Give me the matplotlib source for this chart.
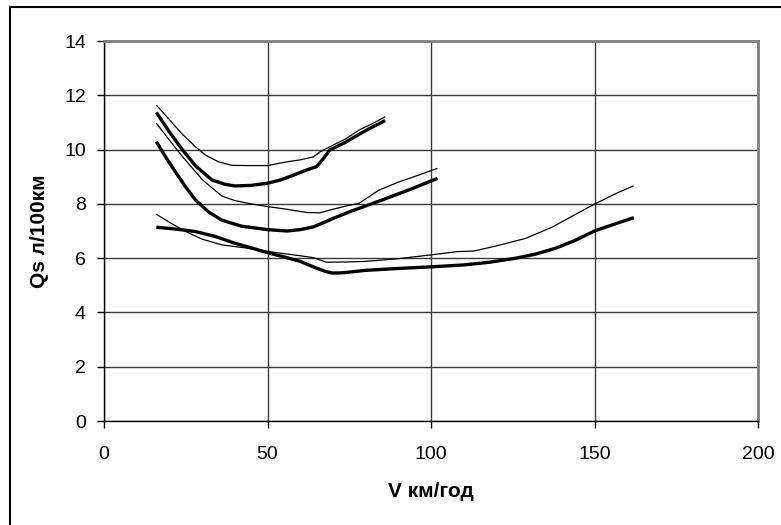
import matplotlib
matplotlib.use("Agg")
import matplotlib.pyplot as plt
from matplotlib.lines import Line2D

plt.rcParams['font.family'] = ['Liberation Sans', 'DejaVu Sans']

# Top pair
v_a_thin = [16, 20, 24, 28, 31, 35, 39, 44, 50, 56, 60, 64, 66, 69, 74, 78, 82, 86]
q_a_thin = [11.64, 11.1, 10.56, 10.1, 9.80, 9.55, 9.42, 9.41, 9.41, 9.55, 9.62, 9.73, 9.91, 10.1, 10.4, 10.72, 10.95, 11.21]
v_a_thick = [16, 20, 24, 28, 33, 37, 40, 45, 50, 54, 58, 62, 65, 67, 69, 74, 80, 86]
q_a_thick = [11.37, 10.65, 9.99, 9.4, 8.88, 8.72, 8.66, 8.68, 8.76, 8.88, 9.06, 9.25, 9.37, 9.65, 9.98, 10.28, 10.7, 11.07]

# Middle pair
v_b_thin = [16, 20, 24, 30, 36, 40, 45, 50, 56, 62, 66, 70, 74, 78, 84, 90, 96, 102]
q_b_thin = [10.97, 10.35, 9.74, 8.9, 8.29, 8.12, 8.0, 7.90, 7.8, 7.68, 7.67, 7.8, 7.92, 8.02, 8.5, 8.8, 9.05, 9.31]
v_b_thick = [16, 19, 22, 25, 28, 32, 36, 42, 50, 56, 60, 64, 67, 70, 76, 85, 94, 102]
q_b_thick = [10.29, 9.7, 9.15, 8.62, 8.14, 7.7, 7.40, 7.18, 7.05, 7.00, 7.05, 7.15, 7.3, 7.46, 7.75, 8.14, 8.55, 8.94]

# Bottom pair
v_c_thin = [16, 20, 25, 30, 36, 43, 50, 58, 64, 68, 74, 80, 90, 100, 108, 113, 120, 129, 137, 144, 150, 156, 162]
q_c_thin = [7.62, 7.32, 6.98, 6.7, 6.49, 6.38, 6.25, 6.12, 6.02, 5.85, 5.86, 5.88, 5.98, 6.12, 6.24, 6.26, 6.45, 6.73, 7.14, 7.6, 7.99, 8.35, 8.67]
v_c_thick = [16, 22, 28, 34, 40, 45, 50, 55, 60, 65, 68, 70, 73, 80, 90, 100, 110, 118, 126, 132, 138, 144, 150, 156, 162]
q_c_thick = [7.14, 7.07, 6.98, 6.8, 6.55, 6.38, 6.20, 6.05, 5.88, 5.63, 5.5, 5.45, 5.46, 5.55, 5.62, 5.68, 5.75, 5.85, 6.0, 6.15, 6.36, 6.65, 7.0, 7.25, 7.49]

x_ticks = [0, 50, 100, 150, 200]
y_ticks = [0, 2, 4, 6, 8, 10, 12, 14]

fig = plt.figure(figsize=(7.81, 5.25), dpi=100)
ax = fig.add_axes([104/781, 1-421/525, (758-104)/781, (421-41)/525])

ax.set_xlim(0, 200)
ax.set_ylim(0, 14)
ax.set_xticks(x_ticks)
ax.set_yticks(y_ticks)
ax.grid(True, color='#3a3a3a', linewidth=1.0)
ax.set_axisbelow(True)

thin_kw = dict(color='black', linewidth=0.9, solid_capstyle='butt')
thick_kw = dict(color='black', linewidth=2.4, solid_capstyle='butt')
ax.plot(v_a_thin, q_a_thin, **thin_kw)
ax.plot(v_a_thick, q_a_thick, **thick_kw)
ax.plot(v_b_thin, q_b_thin, **thin_kw)
ax.plot(v_b_thick, q_b_thick, **thick_kw)
ax.plot(v_c_thin, q_c_thin, **thin_kw)
ax.plot(v_c_thick, q_c_thick, **thick_kw)

for s in ['left', 'bottom']:
    ax.spines[s].set_color('black')
    ax.spines[s].set_linewidth(1.0)
for s in ['top', 'right']:
    ax.spines[s].set_color('#808080')
    ax.spines[s].set_linewidth(2.0)

ax.tick_params(axis='both', direction='out', length=5, width=1, color='black',
               labelsize=14)
ax.tick_params(axis='x', pad=13)
ax.tick_params(axis='y', pad=8)
ax.set_xlabel('V км/год', fontsize=15, fontweight='bold', labelpad=14)
ax.set_ylabel('Qs л/100км', fontsize=15, fontweight='bold', labelpad=11)

# outer chart border (top and left visible)
fig.add_artist(Line2D([10/781, 10/781], [0, 1-7/525], transform=fig.transFigure, color='black', linewidth=1.5))
fig.add_artist(Line2D([10/781, 1], [1-7/525, 1-7/525], transform=fig.transFigure, color='black', linewidth=1.5))

fig.savefig('out.png', dpi=100)
